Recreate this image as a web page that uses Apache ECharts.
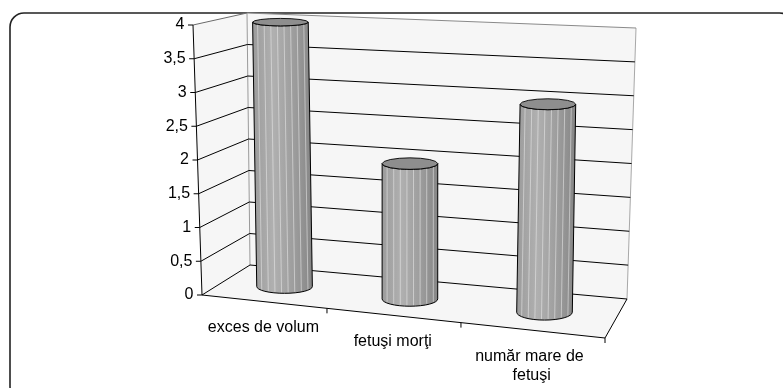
<!DOCTYPE html>
<html>
<head>
<meta charset="utf-8">
<script src="https://cdn.jsdelivr.net/npm/echarts@6/dist/echarts.min.js"></script>
<style>
  html, body { margin: 0; padding: 0; background: #fff; }
  #chart { width: 783px; height: 388px; }
</style>
</head>
<body>
<div id="chart"></div>
<script>
const categories = ['exces de volum', 'fetuşi morţi', 'număr mare de fetuşi'];
const values = [4, 2, 3];
const yTicks = [0, 0.5, 1, 1.5, 2, 2.5, 3, 3.5, 4];

const FONT = '16px "Liberation Sans", Arial, sans-serif';

// Corners of the 3-D plot box in pixels, keyed by u (categories),
// v (value) and w (front plane -> back wall), each 0 or 1.
const BOX = {
  '000': [202, 295], '010': [193, 25], '001': [250, 265], '011': [247, 13],
  '100': [605, 338], '110': [610, 48], '101': [627, 299], '111': [636, 28]
};
// foreshortening along the category direction
const PERSP = -0.101;
const DEPTH = 0.48;   // depth at which the cylinders stand

function warp(u) { return (1 + PERSP) * u / (1 + PERSP * u); }
function lerp(a, b, t) { return [a[0] + (b[0] - a[0]) * t, a[1] + (b[1] - a[1]) * t]; }
function proj(u, v, w) {
  const f0 = lerp(BOX['000'], BOX['100'], u);
  const f1 = lerp(BOX['010'], BOX['110'], u);
  const b0 = lerp(BOX['001'], BOX['101'], u);
  const b1 = lerp(BOX['011'], BOX['111'], u);
  return lerp(lerp(f0, f1, v), lerp(b0, b1, v), w);
}

function toUV(cs, p) {
  return [(p[0] - cs.x) / cs.width, (cs.y + cs.height - p[1]) / cs.height];
}

function line(a, b, color, width) {
  return {
    type: 'line',
    shape: { x1: a[0], y1: a[1], x2: b[0], y2: b[1] },
    style: { stroke: color, lineWidth: width || 1 }
  };
}
function poly(points, fill) {
  return { type: 'polygon', shape: { points: points }, style: { fill: fill, stroke: null } };
}

// Walls, floor, gridlines, ticks and axis labels
function renderFrame(params, api) {
  const cs = params.coordSys;
  const kids = [];
  const wall = '#f6f6f6';
  kids.push(poly([proj(0,0,0), proj(0,1,0), proj(0,1,1), proj(0,0,1)], wall));
  kids.push(poly([proj(0,0,1), proj(0,1,1), proj(1,1,1), proj(1,0,1)], wall));
  kids.push(poly([proj(0,0,0), proj(0,0,1), proj(1,0,1), proj(1,0,0)], wall));

  // back-left and back-right vertical edges
  kids.push(line(proj(0,0,1), proj(0,1,1), '#9a9a9a'));
  kids.push(line(proj(1,0,1), proj(1,1,1), '#a8a8a8'));

  yTicks.forEach(function (t) {
    const v = toUV(cs, api.coord([0, t]))[1];
    const top = v > 0.999;
    const c = top ? '#6a6a6a' : '#000';
    kids.push(line(proj(0,v,0), proj(0,v,1), c));
    kids.push(line(proj(0,v,1), proj(1,v,1), top ? '#8a8a8a' : '#000'));
    const p = proj(0, v, 0);
    kids.push(line([p[0] - 5, p[1]], p, '#000'));
    kids.push({
      type: 'text', x: p[0] - 8.5, y: p[1],
      style: { text: String(t).replace('.', ','), fill: '#000', font: FONT,
               align: 'right', verticalAlign: 'middle' }
    });
  });

  // value axis and floor front/right edges
  kids.push(line(proj(0,0,0), proj(0,1,0), '#000'));
  kids.push(line(proj(0,0,0), proj(1,0,0), '#000'));
  kids.push(line(proj(1,0,0), proj(1,0,1), '#000'));

  const band = api.size([1, 0])[0];
  categories.forEach(function (name, i) {
    const c = api.coord([i, 0]);
    const uEdge = warp((c[0] + band / 2 - cs.x) / cs.width);
    const e = proj(uEdge, 0, 0);
    kids.push(line(e, [e[0], e[1] + 5], '#000'));
    const uMid = warp((c[0] - cs.x) / cs.width);
    const m = proj(uMid, 0, 0);
    kids.push({
      type: 'text', x: m[0], y: m[1] + 17,
      style: { text: name, fill: '#000', font: FONT, width: 125, overflow: 'break',
               lineHeight: 19, align: 'center', verticalAlign: 'top' }
    });
  });
  return { type: 'group', children: kids };
}

function arc(cx, cy, rx, ry, a0, a1, n) {
  const pts = [];
  for (let k = 0; k <= n; k++) {
    const a = a0 + (a1 - a0) * k / n;
    pts.push([cx + rx * Math.cos(a), cy + ry * Math.sin(a)]);
  }
  return pts;
}

// One cylinder per category
function renderBar(params, api) {
  const cs = params.coordSys;
  const i = api.value(0);
  const top = toUV(cs, api.coord([i, api.value(1)]));
  const base = toUV(cs, api.coord([i, 0]));
  const u = warp(top[0]);
  const T = proj(u, top[1], DEPTH);
  const B = proj(u, base[1], DEPTH);
  const rx = api.size([1, 0])[0] * 0.205;
  const ryOf = function (v) { return 1.5 + 0.17 * (proj(u, v, 0)[1] - proj(u, v, 1)[1]); };
  const ryT = ryOf(top[1]), ryB = ryOf(base[1]);

  const body = [].concat(
    [[T[0] - rx, T[1]]],
    arc(B[0], B[1], rx, ryB, Math.PI, 0, 16),
    arc(T[0], T[1], rx, ryT, 0, Math.PI, 16)
  );
  const kids = [{
    type: 'polygon', shape: { points: body },
    style: {
      fill: new echarts.graphic.LinearGradient(0, 0, 1, 0, [
        { offset: 0, color: '#9b9b9b' },
        { offset: 0.35, color: '#b0b0b0' },
        { offset: 0.7, color: '#9c9c9c' },
        { offset: 1, color: '#858585' }
      ]),
      stroke: '#000', lineWidth: 1
    }
  }];
  for (let dx = -rx + 5; dx < rx - 3; dx += 6.6) {
    const s = Math.sqrt(Math.max(0, 1 - (dx / rx) * (dx / rx)));
    kids.push({
      type: 'line',
      shape: { x1: T[0] + dx, y1: T[1] + ryT * s, x2: B[0] + dx, y2: B[1] + ryB * s - 1 },
      style: { stroke: 'rgba(235,235,235,0.55)', lineWidth: 1 }
    });
  }
  kids.push({
    type: 'polygon', shape: { points: arc(T[0], T[1], rx, ryT, 0, Math.PI * 2, 16) },
    style: { fill: '#8e8e8e', stroke: '#000', lineWidth: 0.9 }
  });
  return { type: 'group', children: kids };
}

const chart = echarts.init(document.getElementById('chart'), null, { renderer: 'canvas' });
chart.setOption({
  backgroundColor: '#fff',
  animation: false,
  graphic: [{
    type: 'rect', left: 7.5, top: 10.5, z: 0,
    shape: { x: 0, y: 0, width: 783.5, height: 387.5, r: 14 },
    style: { fill: 'none', stroke: '#222', lineWidth: 1.6 }
  }],
  grid: { left: 198, top: 25, width: 407, height: 270 },
  xAxis: { type: 'category', data: categories, show: false },
  yAxis: { type: 'value', min: 0, max: 4, interval: 0.5, show: false },
  series: [
    {
      type: 'custom', z: 1, silent: true, clip: false,
      data: [[0, 0]],
      renderItem: renderFrame
    },
    {
      type: 'custom', z: 2, silent: true, clip: false,
      encode: { x: 0, y: 1 },
      data: values.map(function (v, i) { return [i, v]; }),
      renderItem: renderBar
    }
  ]
});
</script>
</body>
</html>
